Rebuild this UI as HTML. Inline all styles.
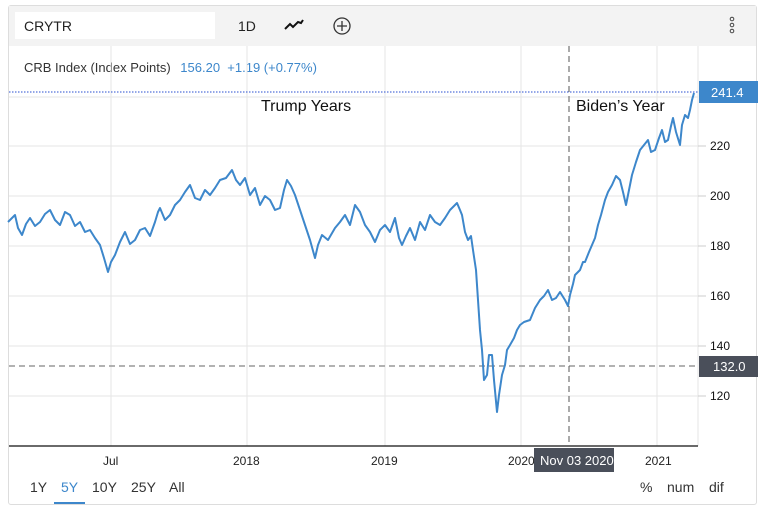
<!DOCTYPE html>
<html><head><meta charset="utf-8"><style>
body{margin:0;width:765px;height:511px;background:#fff;font-family:"Liberation Sans",Arial,sans-serif;overflow:hidden;position:relative}
.t{position:absolute;white-space:nowrap}
</style></head><body>
<div style="position:absolute;left:8px;top:5px;width:749px;height:500px;border:1px solid #ddd;border-radius:3px;box-sizing:border-box"></div>
<div style="position:absolute;left:9px;top:6px;width:747px;height:40px;background:#f3f3f3"></div>
<div style="position:absolute;left:15px;top:12px;width:200px;height:27px;background:#fff"></div>
<div class="t" style="left:24px;top:18px;font-size:14px;color:#222">CRYTR</div>
<div class="t" style="left:238px;top:18px;font-size:14px;color:#222">1D</div>
<svg style="position:absolute;left:283px;top:18px" width="22" height="14"><path d="M2 11 L7 6 L10 9 L15 4 L18 5 L20 2" stroke="#111" stroke-width="2" fill="none"/></svg>
<svg style="position:absolute;left:332px;top:16px" width="20" height="20"><circle cx="10" cy="10" r="8" stroke="#333" stroke-width="1.3" fill="none"/><path d="M10 5V15M5 10H15" stroke="#333" stroke-width="1.3"/></svg>
<svg style="position:absolute;left:728px;top:16px" width="8" height="20"><circle cx="4" cy="3" r="1.8" fill="none" stroke="#444"/><circle cx="4" cy="9" r="1.8" fill="none" stroke="#444"/><circle cx="4" cy="15" r="1.8" fill="none" stroke="#444"/></svg>
<div class="t" style="left:24px;top:60px;font-size:13px;color:#333">CRB Index (Index Points) <span style="color:#3d87cb;margin-left:6px">156.20 &nbsp;+1.19 (+0.77%)</span></div>
<svg style="position:absolute;left:0;top:0" width="765" height="511">
<g stroke="#e6e6e6" stroke-width="1">
<line x1="111" y1="46" x2="111" y2="446"/><line x1="247" y1="46" x2="247" y2="446"/><line x1="385" y1="46" x2="385" y2="446"/><line x1="521" y1="46" x2="521" y2="446"/><line x1="657" y1="46" x2="657" y2="446"/>
<line x1="9" y1="97" x2="698" y2="97"/><line x1="9" y1="146" x2="698" y2="146"/><line x1="9" y1="196" x2="698" y2="196"/><line x1="9" y1="246" x2="698" y2="246"/><line x1="9" y1="296" x2="698" y2="296"/><line x1="9" y1="346" x2="698" y2="346"/><line x1="9" y1="396" x2="698" y2="396"/>
<line x1="698" y1="46" x2="698" y2="446"/>
</g>
<g stroke="#ccc"><line x1="698" y1="146" x2="706" y2="146"/><line x1="698" y1="196" x2="706" y2="196"/><line x1="698" y1="246" x2="706" y2="246"/><line x1="698" y1="296" x2="706" y2="296"/><line x1="698" y1="346" x2="706" y2="346"/><line x1="698" y1="396" x2="706" y2="396"/></g>
<line x1="9" y1="446" x2="698" y2="446" stroke="#111" stroke-width="1.3"/>
<line x1="9" y1="92" x2="698" y2="92" stroke="#2a4fd0" stroke-width="1" stroke-dasharray="1.5,1.5"/>
<line x1="9" y1="366" x2="698" y2="366" stroke="#999" stroke-width="1.5" stroke-dasharray="6,4"/>
<line x1="569" y1="46" x2="569" y2="446" stroke="#555" stroke-width="1" stroke-dasharray="6,4"/>
<polyline fill="none" stroke="#3d87cb" stroke-width="2" stroke-linejoin="round" points="8,222 12,218 15,215 18,228 22,235 26,224 30,218 35,226 40,222 45,214 50,210 55,220 60,225 65,212 70,215 75,226 80,222 85,232 90,230 95,238 100,245 104,258 108,272 111,262 115,255 120,242 125,232 130,244 135,240 140,230 145,228 150,236 155,222 158,212 160,208 165,220 170,215 175,205 180,200 185,192 190,185 195,198 200,200 205,190 210,195 215,188 220,180 226,178 232,170 236,180 240,185 245,178 250,195 255,188 260,205 265,196 270,200 275,210 280,208 284,190 287,180 291,186 295,195 300,210 305,225 310,240 315,258 318,245 322,235 328,240 335,228 340,222 345,215 350,225 355,205 360,212 365,225 370,232 375,242 380,230 385,225 390,232 395,218 399,238 402,245 406,236 410,228 415,240 420,222 425,230 430,215 435,222 440,225 445,218 450,210 454,206 457,203 460,210 462,215 465,232 468,240 471,236 473,250 476,270 478,300 480,330 482,350 484,380 487,375 489,355 492,355 494,380 497,412 499,395 502,375 505,365 507,350 510,345 514,338 517,330 520,325 524,322 530,320 535,308 540,300 544,296 548,290 552,300 556,298 560,292 565,300 568,306 570,295 573,284 575,275 578,272 580,270 583,262 585,262 589,252 592,245 595,238 598,225 601,215 605,200 608,192 612,185 616,176 620,180 623,192 626,205 629,190 632,175 636,162 640,150 644,145 648,140 651,152 655,150 659,138 662,130 665,142 668,140 671,126 673,118 676,132 680,145 682,125 685,115 688,118 690,110 692,100 694,93"/>
</svg>
<div class="t" style="left:261px;top:98px;font-size:16px;color:#111">Trump Years</div>
<div class="t" style="left:576px;top:98px;font-size:16px;color:#111">Biden’s Year</div>
<div style="position:absolute;left:699px;top:81px;width:59px;height:22px;background:#3d87cb"></div>
<div class="t" style="left:711px;top:85px;font-size:13px;color:#fff">241.4</div>
<div style="position:absolute;left:699px;top:356px;width:59px;height:21px;background:#4a4f5a"></div>
<div class="t" style="left:713px;top:359px;font-size:13px;color:#fff">132.0</div>
<div class="t" style="left:710px;top:139px;font-size:12px;color:#111">220</div>
<div class="t" style="left:710px;top:189px;font-size:12px;color:#111">200</div>
<div class="t" style="left:710px;top:239px;font-size:12px;color:#111">180</div>
<div class="t" style="left:710px;top:289px;font-size:12px;color:#111">160</div>
<div class="t" style="left:710px;top:339px;font-size:12px;color:#111">140</div>
<div class="t" style="left:710px;top:389px;font-size:12px;color:#111">120</div>
<div class="t" style="left:103px;top:454px;font-size:12px;color:#222">Jul</div>
<div class="t" style="left:233px;top:454px;font-size:12px;color:#222">2018</div>
<div class="t" style="left:371px;top:454px;font-size:12px;color:#222">2019</div>
<div class="t" style="left:508px;top:454px;font-size:12px;color:#222">2020</div>
<div class="t" style="left:645px;top:454px;font-size:12px;color:#222">2021</div>
<div style="position:absolute;left:534px;top:448px;width:80px;height:24px;background:#4a4f5a"></div>
<div class="t" style="left:540px;top:453px;font-size:13px;color:#fff">Nov 03 2020</div>
<div class="t" style="left:30px;top:479px;font-size:14px;color:#333">1Y</div>
<div class="t" style="left:61px;top:479px;font-size:14px;color:#3d87cb">5Y</div>
<div style="position:absolute;left:54px;top:502px;width:31px;height:2px;background:#3d87cb"></div>
<div class="t" style="left:92px;top:479px;font-size:14px;color:#333">10Y</div>
<div class="t" style="left:131px;top:479px;font-size:14px;color:#333">25Y</div>
<div class="t" style="left:169px;top:479px;font-size:14px;color:#333">All</div>
<div class="t" style="left:640px;top:479px;font-size:14px;color:#333">%</div>
<div class="t" style="left:667px;top:479px;font-size:14px;color:#333">num</div>
<div class="t" style="left:709px;top:479px;font-size:14px;color:#333">dif</div>
</body></html>
